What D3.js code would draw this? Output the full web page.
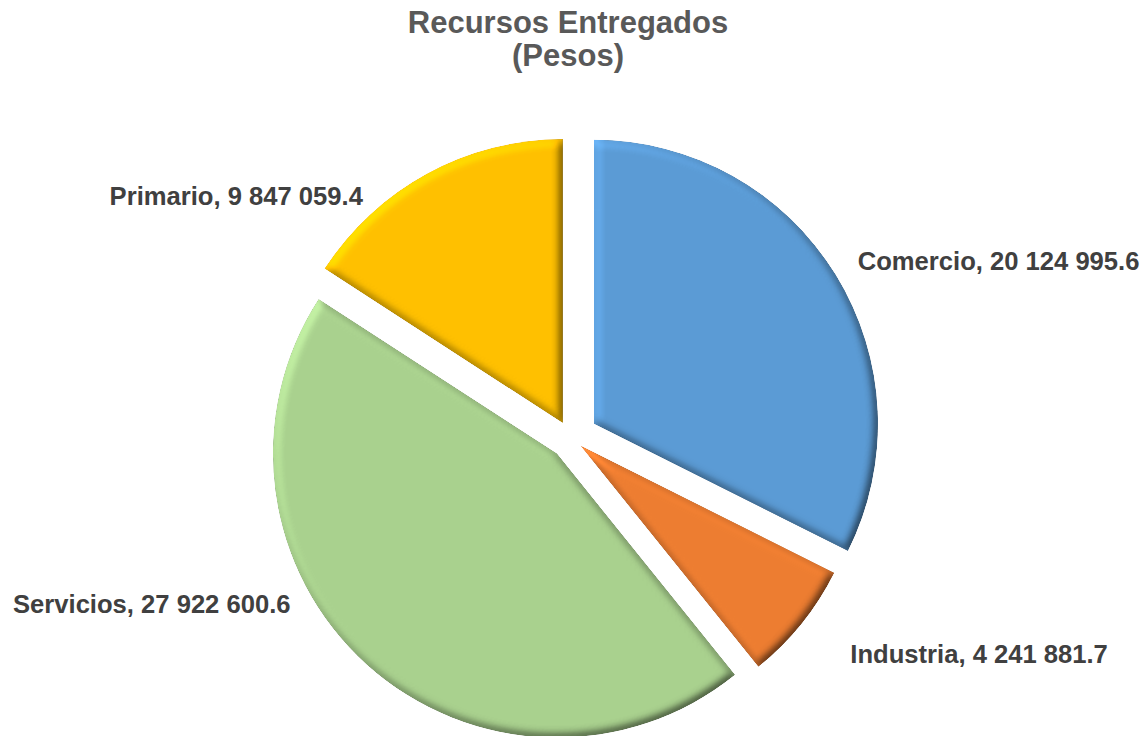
<!DOCTYPE html>
<html>
<head>
<meta charset="utf-8">
<title>Recursos Entregados</title>
<script src="https://d3js.org/d3.v7.min.js"></script>
<style>
  body { margin: 0; background: #fff; }
  text { font-family: "Liberation Sans", Arial, sans-serif; font-weight: bold; }
</style>
</head>
<body>
<script>
// chart data
var categories = ["Comercio", "Industria", "Servicios", "Primario"];
var values = [20124995.6, 4241881.7, 27922600.6, 9847059.4];
var titleLines = ["Recursos Entregados", "(Pesos)"];

// styling
var colors = ["#5B9BD5", "#ED7D31", "#A9D18E", "#FFC000"];
var explode = [27, 12, 21, 17];        // slice pull-out, px
var labelTurn = [0, -1.2, 17.3, -12.2]; // label angle shift from bisector, degrees
var labelDist = [337, 353, 326, 319];

var width = 1146, height = 736;
var cx = 571, cy = 438, radius = 284;

var fmt = d3.formatLocale({decimal: ".", thousands: " ", grouping: [3], currency: ["", ""]}).format(",.1f");

var svg = d3.select("body").append("svg")
    .attr("width", width)
    .attr("height", height);

// soft bevel look
var defs = svg.append("defs");
var elev = 60;
var f = defs.append("filter").attr("id", "bevel")
    .attr("x", "-5%").attr("y", "-5%").attr("width", "110%").attr("height", "110%")
    .attr("color-interpolation-filters", "sRGB");
f.append("feGaussianBlur").attr("in", "SourceAlpha").attr("stdDeviation", 5).attr("result", "blur");
f.append("feDiffuseLighting").attr("in", "blur").attr("surfaceScale", 4).attr("diffuseConstant", 1)
    .attr("lighting-color", "#fff").attr("result", "light")
  .append("feDistantLight").attr("azimuth", 225).attr("elevation", elev);
f.append("feComposite").attr("in", "SourceGraphic").attr("in2", "light").attr("operator", "arithmetic")
    .attr("k1", 1 / Math.sin(elev * Math.PI / 180)).attr("k2", 0).attr("k3", 0).attr("k4", 0).attr("result", "lit");
f.append("feComposite").attr("in", "lit").attr("in2", "SourceAlpha").attr("operator", "in");

var pie = d3.pie().sort(null).value(function(d) { return d; });
var arcs = pie(values);
var arc = d3.arc().innerRadius(0).outerRadius(radius);

var g = svg.append("g").attr("transform", "translate(" + cx + "," + cy + ")");

g.selectAll("path.slice")
  .data(arcs)
  .enter()
  .append("path")
  .attr("class", "slice")
  .attr("d", arc)
  .attr("fill", function(d, i) { return colors[i]; })
  .attr("filter", "url(#bevel)")
  .attr("transform", function(d, i) {
      var p = d3.pointRadial((d.startAngle + d.endAngle) / 2, explode[i]);
      return "translate(" + p[0] + "," + p[1] + ")";
  });

g.selectAll("text.lbl")
  .data(arcs)
  .enter()
  .append("text")
  .attr("class", "lbl")
  .attr("x", function(d, i) {
      var a = (d.startAngle + d.endAngle) / 2 + labelTurn[i] * Math.PI / 180;
      return d3.pointRadial(a, labelDist[i])[0];
  })
  .attr("y", function(d, i) {
      var a = (d.startAngle + d.endAngle) / 2 + labelTurn[i] * Math.PI / 180;
      return d3.pointRadial(a, labelDist[i])[1];
  })
  .attr("dy", "0.35em")
  .attr("text-anchor", function(d) { return (d.startAngle + d.endAngle) / 2 < Math.PI ? "start" : "end"; })
  .attr("fill", "#404040")
  .style("font-size", "25.6px")
  .text(function(d, i) { return categories[i] + ", " + fmt(d.data); });

svg.selectAll("text.title")
  .data(titleLines)
  .enter()
  .append("text")
  .attr("class", "title")
  .attr("x", 568)
  .attr("y", function(d, i) { return 33 + i * 33; })
  .attr("text-anchor", "middle")
  .attr("fill", "#595959")
  .style("font-size", "31px")
  .text(function(d) { return d; });
</script>
</body>
</html>
